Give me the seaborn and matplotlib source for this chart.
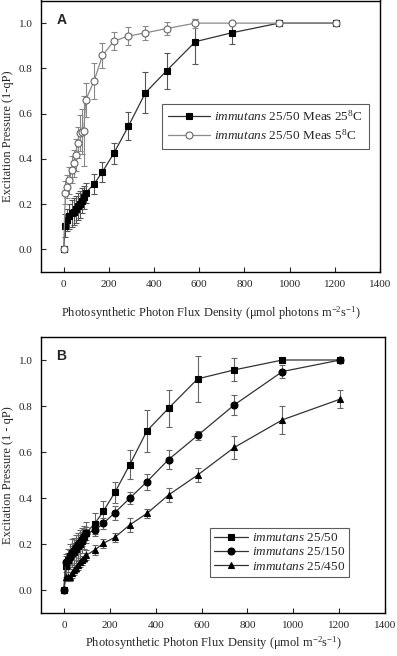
import matplotlib
matplotlib.use("Agg")
import matplotlib.pyplot as plt
import numpy as np
import pandas as pd
import seaborn as sns

# %% data
ppfd = [0, 8, 17, 26, 35, 44, 53, 62, 71, 80, 89, 98,
        135, 172, 222, 287, 362, 456, 583, 743, 953, 1205]

# panel A
a25 = [0.0, 0.105, 0.13, 0.147, 0.16, 0.167, 0.177, 0.19, 0.2, 0.215, 0.23, 0.25,
       0.289, 0.343, 0.424, 0.545, 0.692, 0.79, 0.918, 0.957, 1.0, 1.0]
a25_err = [0.0, 0.05, 0.05, 0.055, 0.06, 0.06, 0.06, 0.06, 0.06, 0.055, 0.05, 0.045,
           0.045, 0.045, 0.045, 0.063, 0.09, 0.08, 0.1, 0.05, 0.0, 0.0]
a5 = [0.0, 0.25, 0.277, 0.306, 0.353, 0.38, 0.417, 0.472, 0.515, 0.52, 0.525, 0.66,
      0.745, 0.857, 0.92, 0.943, 0.957, 0.976, 1.0, 1.0, 1.0, 1.0]
a5_err = [0.0, 0.05, 0.05, 0.06, 0.06, 0.06, 0.07, 0.07, 0.08, 0.1, 0.155, 0.075,
          0.08, 0.055, 0.04, 0.04, 0.03, 0.03, 0.02, 0.0, 0.0, 0.0]

# panel B
b150 = [0.0, 0.12, 0.13, 0.142, 0.16, 0.174, 0.186, 0.198, 0.21, 0.222, 0.235, 0.246,
        0.26, 0.29, 0.336, 0.399, 0.471, 0.567, 0.672, 0.805, 0.95, 1.0]
b150_err = [0.0, 0.03, 0.03, 0.03, 0.03, 0.03, 0.03, 0.03, 0.03, 0.03, 0.03, 0.03,
            0.025, 0.025, 0.03, 0.025, 0.035, 0.04, 0.02, 0.042, 0.03, 0.0]
b450 = [0.0, 0.058, 0.058, 0.058, 0.072, 0.087, 0.097, 0.108, 0.12, 0.13, 0.14, 0.152,
        0.174, 0.203, 0.229, 0.283, 0.333, 0.413, 0.5, 0.62, 0.74, 0.83]
b450_err = [0.0, 0.02, 0.02, 0.02, 0.02, 0.02, 0.02, 0.02, 0.02, 0.02, 0.02, 0.02,
            0.02, 0.02, 0.02, 0.03, 0.02, 0.03, 0.03, 0.05, 0.06, 0.04]

# %% style
sns.set_style("ticks")
plt.rcParams['font.family'] = ['Liberation Serif', 'DejaVu Serif']
plt.rcParams['mathtext.fontset'] = 'custom'
plt.rcParams['mathtext.rm'] = 'Liberation Serif'
plt.rcParams['mathtext.it'] = 'Liberation Serif:italic'

fig = plt.figure(figsize=(3.97, 6.56), dpi=100)
axA = fig.add_axes([41/397, 1 - 272/656, (380 - 41)/397, 271.5/656])
axB = fig.add_axes([41/397, (656 - 613)/656, (385 - 41)/397, (613 - 337)/656])


def series(ax, y, err, marker, line_c, face_c, edge_c, err_c, label):
    df = pd.DataFrame({'x': ppfd, 'y': y})
    sns.lineplot(data=df, x='x', y='y', ax=ax, color=line_c, lw=0.9,
                 marker=marker, markersize=5, markerfacecolor=face_c,
                 markeredgecolor=edge_c, markeredgewidth=0.8, label=label,
                 zorder=3)
    ax.errorbar(ppfd, y, yerr=err, fmt='none', ecolor=err_c, elinewidth=0.8,
                capsize=2.5, capthick=0.8, zorder=2)


series(axA, a25, a25_err, 's', '#333333', 'black', 'black', '#555555',
       r'$\it{immutans}$ 25/50 Meas 25$^{8}$C')
series(axA, a5, a5_err, 'o', '#8a8a8a', 'white', '#666666', '#888888',
       r'$\it{immutans}$ 25/50 Meas 5$^{8}$C')

series(axB, a25, a25_err, 's', '#333333', 'black', 'black', '#666666',
       r'$\it{immutans}$ 25/50')
series(axB, b150, b150_err, 'o', '#333333', 'black', 'black', '#666666',
       r'$\it{immutans}$ 25/150')
series(axB, b450, b450_err, '^', '#333333', 'black', 'black', '#666666',
       r'$\it{immutans}$ 25/450')

ylabels = ['Excitation Pressure (1-qP)', 'Excitation Pressure (1 - qP)']
xlabels = [r'Photosynthetic Photon Flux Density (μmol photons m$^{-2}$s$^{-1}$)',
           r'Photosynthetic Photon Flux Density (μmol m$^{-2}$s$^{-1}$)']
# label positions in pixels: (axes left px, axes width px, axes bottom px, axes height px, xlabel y px)
geom = [(41, 339, 272, 271.5, 313), (41, 344, 613, 276, 643)]

for ax, letter, yl, xl, g in zip([axA, axB], ['A', 'B'], ylabels, xlabels, geom):
    left, width, bottom, height, xly = g
    ax.set_xlim(-100, 1400)
    ax.set_ylim(-0.1, 1.1)
    ax.set_xticks(np.arange(0, 1401, 200))
    ax.set_yticks(np.arange(0, 1.01, 0.2))
    ax.set_yticklabels([f'{v:.1f}' for v in np.arange(0, 1.01, 0.2)])
    ax.tick_params(direction='in', length=3.5, width=0.8, labelsize=8, pad=6)
    for s in ax.spines.values():
        s.set_linewidth(1.0)
        s.set_color('black')
    ax.set_xlabel(xl, fontsize=9, va='center')
    ax.set_ylabel(yl, fontsize=9, va='center')
    ax.xaxis.set_label_coords(0.5, -(xly - bottom) / height)
    ax.yaxis.set_label_coords((8 - left) / width, 0.5)
    ax.text(0.045, 0.955, letter, transform=ax.transAxes, fontsize=10,
            fontweight='bold', family='Liberation Sans', va='top', ha='left')

axA.legend(loc='upper left', bbox_to_anchor=((162 - 41) / 339, 1 - 103 / 271.5),
           fontsize=9.5, frameon=True, fancybox=False, edgecolor='#333333',
           handlelength=3.2, borderpad=0.45, labelspacing=0.3,
           handletextpad=0.3, borderaxespad=0).get_frame().set_linewidth(0.8)
axB.legend(loc='upper left', bbox_to_anchor=((210 - 41) / 344, (613 - 528) / 276),
           fontsize=9.5, frameon=True, fancybox=False, edgecolor='#333333',
           handlelength=2.6, borderpad=0.3, labelspacing=0.15,
           handletextpad=0.3, borderaxespad=0).get_frame().set_linewidth(0.8)

fig.savefig('out.png', dpi=100)
